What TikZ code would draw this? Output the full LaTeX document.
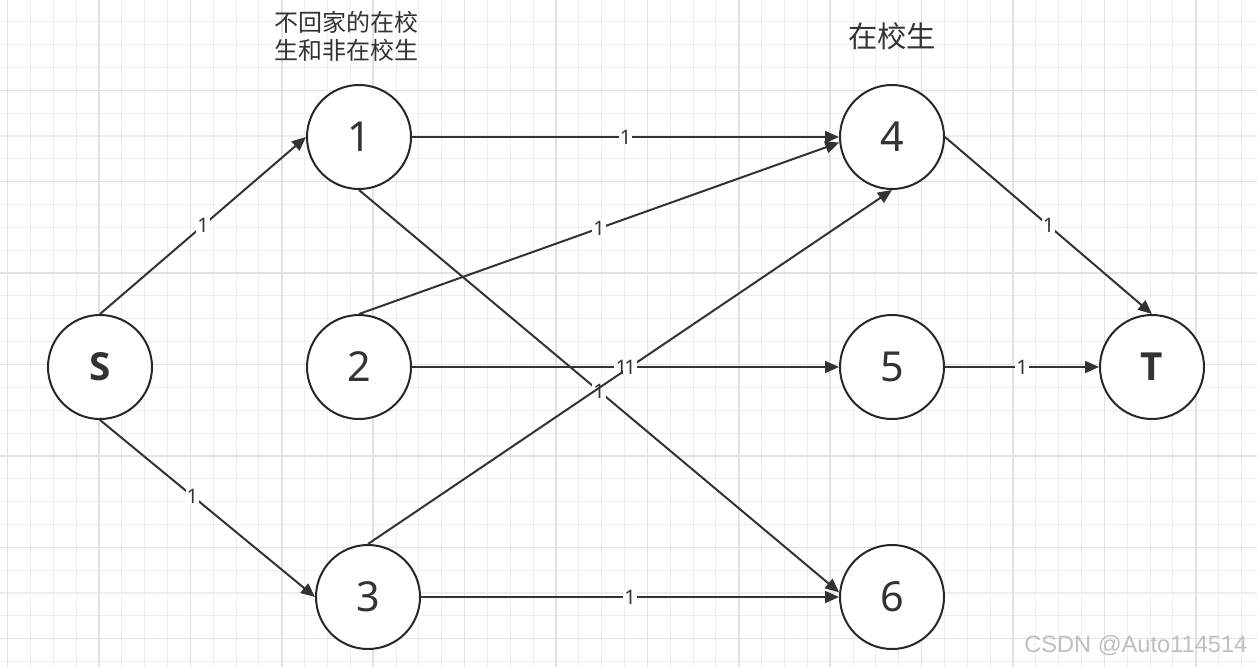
\documentclass[tikz,border=0pt]{standalone}
\usepackage{fontspec}
\setmainfont{Noto Sans}
\newfontfamily\boldfam{Open Sans}
\newfontfamily\cjk{Noto Sans CJK SC}
\newfontfamily\wmfont{Liberation Sans}
\usetikzlibrary{arrows.meta}
\definecolor{gridminor}{HTML}{EEEEEE}
\definecolor{gridmajor}{HTML}{E2E2E2}
\definecolor{edgecol}{HTML}{333333}
\definecolor{nodecol}{HTML}{23282D}
\definecolor{wmcol}{HTML}{BFBFBF}
\tikzset{
  vertex/.style={circle,draw=nodecol,line width=1.5pt,fill=white,minimum size=78pt,inner sep=0pt,font=\fontsize{31}{36}\selectfont,text=edgecol},
  bvertex/.style={vertex,font=\boldfam\bfseries\fontsize{29}{36}\selectfont},
  flow/.style={draw=edgecol,line width=1.5pt,-{Triangle[length=10.5pt,width=9pt]}},
  cap1/.style={fill=white,inner sep=0.8pt,text=edgecol,font=\fontsize{15}{16}\selectfont},
  grouplabel/.style={text=edgecol,align=center,font=\cjk\fontsize{18}{21}\selectfont},
}
\begin{document}
\begin{tikzpicture}[x=0.75pt,y=-0.75pt]
\useasboundingbox (0,0) rectangle (1257,667);
\fill[white] (0,0) rectangle (1257,667);
% grid
\foreach \i in {0,...,54}{
  \draw[gridminor,line width=0.8pt] ({7.6+22.85*\i},0) -- ({7.6+22.85*\i},667);
}
\foreach \i in {1,...,29}{
  \draw[gridminor,line width=0.8pt] (0,{-1.1+22.85*\i}) -- (1257,{-1.1+22.85*\i});
}
\foreach \i in {0,...,13}{
  \draw[gridmajor,line width=1.1pt] ({7.6+91.4*\i},0) -- ({7.6+91.4*\i},667);
}
\foreach \i in {1,...,7}{
  \draw[gridmajor,line width=1.1pt] (0,{-1.1+91.4*\i}) -- (1257,{-1.1+91.4*\i});
}
% nodes
\node[bvertex] (S) at (100,367) {S};
\node[vertex] (n1) at (359,137) {1};
\node[vertex] (n2) at (359,367) {2};
\node[vertex] (n3) at (368,597) {3};
\node[vertex] (n4) at (892,137) {4};
\node[vertex] (n5) at (892,367) {5};
\node[vertex] (n6) at (892,597) {6};
\node[bvertex] (T) at (1152,367) {T};
% group labels
\node[grouplabel] (g1) at (346,36) {不回家的在校\\生和非在校生};
\node[grouplabel,font=\cjk\fontsize{22}{26}\selectfont] (g2) at (892,36) {在校生};
% edges
\draw[flow] (S.north) -- node[cap1] {1} (n1.west);
\draw[flow] (S.south) -- node[cap1,pos=0.43] {1} (n3.west);
\draw[flow] (n1.east) -- node[cap1] {1} (n4.west);
\draw[flow] (n2.north) -- node[cap1] {1} (n4.186);
\draw[flow] (n1.south) -- node[cap1] {1} (n6.175);
\draw[flow] (n2.east) -- node[cap1,pos=0.49] {1} (n5.west);
\draw[flow] (n3.north) -- node[cap1] {1} (n4.south);
\draw[flow] (n3.east) -- node[cap1] {1} (n6.west);
\draw[flow] (n4.east) -- node[cap1] {1} (T.north);
\draw[flow] (n5.east) -- node[cap1] {1} (T.west);
% watermark
\node[text=wmcol,font=\wmfont\fontsize{17.7}{20}\selectfont,anchor=east] (wm) at (1252,646) {CSDN @Auto114514};
\end{tikzpicture}
\end{document}
